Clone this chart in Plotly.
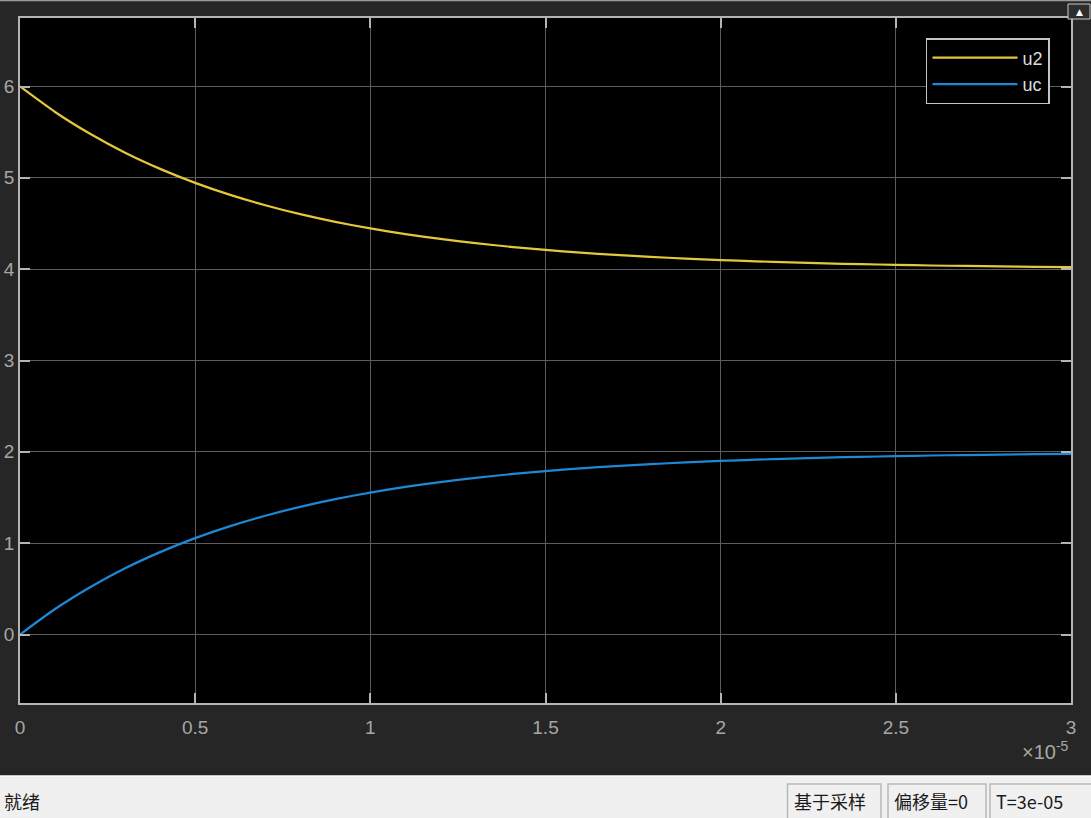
import plotly.graph_objects as go

# ---- data (time in seconds) ----
time_s = [0, 1e-6, 2e-6, 3e-6, 4e-6, 5e-6, 6e-6, 7e-6, 8e-6, 9e-6,
          1.0e-5, 1.1e-5, 1.2e-5, 1.3e-5, 1.4e-5, 1.5e-5, 1.6e-5, 1.7e-5, 1.8e-5, 1.9e-5,
          2.0e-5, 2.1e-5, 2.2e-5, 2.3e-5, 2.4e-5, 2.5e-5, 2.6e-5, 2.7e-5, 2.8e-5, 2.9e-5, 3.0e-5]
u2 = [6.000, 5.721, 5.482, 5.275, 5.098, 4.945, 4.813, 4.700, 4.602, 4.518,
      4.446, 4.384, 4.331, 4.285, 4.245, 4.211, 4.181, 4.156, 4.134, 4.116,
      4.100, 4.086, 4.074, 4.063, 4.055, 4.047, 4.040, 4.035, 4.030, 4.026, 4.022]
uc = [0.000, 0.279, 0.518, 0.725, 0.902, 1.055, 1.187, 1.300, 1.398, 1.482,
      1.554, 1.616, 1.669, 1.715, 1.755, 1.789, 1.819, 1.844, 1.866, 1.884,
      1.900, 1.914, 1.926, 1.937, 1.945, 1.953, 1.960, 1.965, 1.970, 1.974, 1.978]
series_names = ["u2", "uc"]
x_tickvals = [0, 0.5e-5, 1.0e-5, 1.5e-5, 2.0e-5, 2.5e-5, 3.0e-5]
x_ticktext = ["0", "0.5", "1", "1.5", "2", "2.5", "3"]
y_tickvals = [0, 1, 2, 3, 4, 5, 6]
status_left = "就绪"
status_boxes = ["基于采样", "偏移量=0", "T=3e-05"]

FONT = "Liberation Sans, Arial, sans-serif"
CJK = "Noto Sans CJK SC, sans-serif"

fig = go.Figure()
fig.add_trace(go.Scatter(x=time_s, y=u2, name=series_names[0], mode="lines",
                         line=dict(color="#e5c73c", width=2.2, shape="spline", smoothing=0.6)))
fig.add_trace(go.Scatter(x=time_s, y=uc, name=series_names[1], mode="lines",
                         line=dict(color="#1e88d6", width=2.2, shape="spline", smoothing=0.6)))

axis_common = dict(showgrid=True, gridcolor="#5c5c5c", gridwidth=1, automargin=False,
                   showline=True, linecolor="#b4b4b4", linewidth=1.5, mirror="ticks",
                   ticks="inside", ticklen=10, tickcolor="#b4b4b4", tickwidth=1.5,
                   zeroline=False, tickfont=dict(family=FONT, size=19, color="#a6a6a6"))

fig.update_xaxes(range=[0, 3e-5], tickvals=x_tickvals, ticktext=x_ticktext,
                 ticklabelstandoff=6, **axis_common)
fig.update_yaxes(range=[-0.75, 6.75], tickvals=y_tickvals, ticklabelstandoff=0, **axis_common)

shapes = []
annotations = []

def px(xp):
    return (xp - 20) / 1051

def py(yp):
    return (703 - yp) / 685

# status bar
shapes.append(dict(type="rect", xref="paper", yref="paper", x0=px(-5), x1=px(1100),
                   y0=py(830), y1=py(776), fillcolor="#f0f0f0", line=dict(width=0), layer="above"))
shapes.append(dict(type="line", xref="paper", yref="paper", x0=px(-5), x1=px(1100),
                   y0=py(776), y1=py(776), line=dict(color="#ffffff", width=1.5), layer="above"))
box_edges = [(787.5, 881), (888, 986), (990, 1100)]
for (bx0, bx1), label in zip(box_edges, status_boxes):
    shapes.append(dict(type="rect", xref="paper", yref="paper", x0=px(bx0), x1=px(bx1),
                       y0=py(830), y1=py(784), fillcolor="#f0f0f0",
                       line=dict(color="#b8b8b8", width=1.5), layer="above"))
    annotations.append(dict(text=label, xref="paper", yref="paper", x=px(bx0 + 4), y=py(801),
                            xanchor="left", yanchor="middle", showarrow=False,
                            font=dict(family=CJK, size=18, color="#1a1a1a")))
annotations.append(dict(text=status_left, xref="paper", yref="paper", x=px(2), y=py(801),
                        xanchor="left", yanchor="middle", showarrow=False,
                        font=dict(family=CJK, size=18, color="#1a1a1a")))

# exponent label
annotations.append(dict(text="×10<sup>-5</sup>", xref="paper", yref="paper", x=px(1071), y=py(750),
                        xanchor="right", yanchor="middle", showarrow=False,
                        font=dict(family=FONT, size=20, color="#a6a6a6")))

# top edge & top-right button
shapes.append(dict(type="line", xref="paper", yref="paper", x0=px(-5), x1=px(1100),
                   y0=py(0.5), y1=py(0.5), line=dict(color="#9a9a9a", width=1.5), layer="above"))
shapes.append(dict(type="rect", xref="paper", yref="paper", x0=px(1068), x1=px(1090),
                   y0=py(19), y1=py(4), fillcolor="#2e2e2e",
                   line=dict(color="#c8c8c8", width=1), layer="above"))
annotations.append(dict(text="▲", xref="paper", yref="paper", x=px(1079), y=py(12),
                        xanchor="center", yanchor="middle", showarrow=False,
                        font=dict(family="DejaVu Sans", size=9, color="#ffffff")))

fig.update_layout(
    width=1091, height=818,
    margin=dict(l=20, r=20, t=18, b=115, autoexpand=False),
    paper_bgcolor="#262626", plot_bgcolor="#000000",
    showlegend=True,
    legend=dict(x=0.98, xanchor="right", y=0.9708, yanchor="top",
                bgcolor="#000000", bordercolor="#c4c4c4", borderwidth=1.5,
                font=dict(family=FONT, size=18, color="#dcdcdc"),
                itemwidth=85, tracegroupgap=0),
    shapes=shapes, annotations=annotations,
)

fig.write_html("out.html", config={"displayModeBar": False},
               post_script="document.body.style.margin='0';document.body.style.overflow='hidden';")
